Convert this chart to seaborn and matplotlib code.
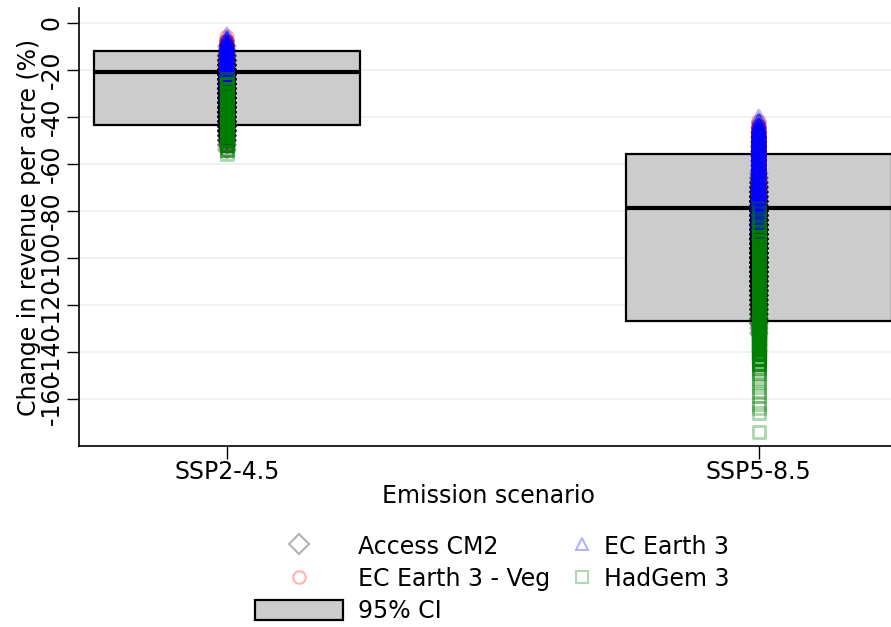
import numpy as np
import pandas as pd
import seaborn as sns
import matplotlib
matplotlib.use("Agg")
import matplotlib.pyplot as plt
from matplotlib.lines import Line2D
from matplotlib.patches import Patch

# ---------------- data ----------------
scenarios = ["SSP2-4.5", "SSP5-8.5"]
models = ["Access CM2", "EC Earth 3 - Veg", "EC Earth 3", "HadGem 3"]

# 95% CI boxes (low, median, high)
ci_low = [-43.6, -127.0]
ci_median = [-21.1, -78.9]
ci_high = [-12.2, -55.8]

# simulated changes (%) per model & scenario: values and number of observations at each value
ssp2_access_vals = [-10, -12, -14, -16, -18, -20, -22, -24, -26, -28, -30, -32, -34, -36, -38, -40, -42, -44, -46, -48, -50, -52, -54]
ssp2_access_cnt = [1, 2, 4, 8, 12, 15, 18, 20, 20, 20, 20, 20, 20, 20, 18, 16, 14, 12, 10, 6, 4, 2, 1]
ssp2_veg_vals = [-6, -8, -10, -12, -14, -16, -18, -20, -22, -24, -26, -28, -30, -32, -34, -36, -38, -40, -42, -44, -46, -48, -50, -52]
ssp2_veg_cnt = [1, 3, 6, 10, 14, 18, 20, 20, 20, 20, 18, 16, 14, 12, 10, 8, 6, 5, 4, 3, 2, 2, 1, 1]
ssp2_ec3_vals = [-5, -7, -9, -11, -13, -15, -17, -19, -21, -23, -25, -27, -29, -31, -33, -35, -37, -39, -41, -43, -45, -47, -49]
ssp2_ec3_cnt = [1, 4, 10, 16, 20, 20, 20, 20, 20, 20, 18, 16, 14, 12, 10, 8, 6, 5, 4, 3, 2, 1, 1]
ssp2_had_vals = [-24, -26, -28, -30, -32, -34, -36, -38, -40, -42, -44, -46, -48, -50, -52, -54, -56]
ssp2_had_cnt = [2, 6, 14, 20, 20, 20, 20, 20, 20, 20, 20, 20, 18, 14, 8, 3, 1]

ssp5_access_vals = [-64, -66, -68, -70, -72, -74, -76, -78, -80, -82, -84, -86, -88, -90, -92, -94, -96, -98, -100, -102, -104, -106, -108, -110, -112, -114, -116, -118, -120, -122, -124, -126, -128, -130, -132]
ssp5_access_cnt = [1, 2, 4, 6, 8, 10, 12, 14, 16, 18, 20, 20, 20, 20, 20, 20, 20, 20, 20, 20, 18, 16, 14, 12, 10, 9, 8, 7, 6, 5, 4, 3, 2, 1, 1]
ssp5_veg_vals = [-42, -44, -46, -48, -50, -52, -54, -56, -58, -60, -62, -64, -66, -68, -70, -72, -74, -76, -78, -80, -82, -84, -86, -88, -90, -92, -94, -96, -98, -100]
ssp5_veg_cnt = [1, 2, 4, 8, 12, 16, 20, 20, 20, 20, 20, 20, 20, 18, 16, 14, 12, 10, 8, 6, 5, 4, 3, 3, 2, 2, 1, 1, 1, 1]
ssp5_ec3_vals = [-40, -42, -44, -46, -48, -50, -52, -54, -56, -58, -60, -62, -64, -66, -68, -70, -72, -74, -76, -78, -80, -82, -84, -86, -88, -90, -92, -94, -96]
ssp5_ec3_cnt = [1, 3, 6, 10, 14, 18, 20, 20, 20, 20, 20, 20, 20, 20, 20, 20, 20, 18, 16, 14, 12, 10, 8, 6, 4, 3, 2, 1, 1]
ssp5_had_vals = [-79, -81, -83, -85, -87, -89, -91, -93, -95, -97, -99, -101, -103, -105, -107, -109, -111, -113, -115, -117, -119, -121, -123, -125, -127, -129, -131, -133, -135, -137, -139, -141, -143, -145, -147, -149, -151, -153, -155, -157, -159, -162, -164, -166, -174]
ssp5_had_cnt = [1, 1, 1, 1, 2, 3, 8, 12, 16, 20, 20, 20, 20, 20, 20, 20, 20, 20, 20, 20, 20, 20, 20, 20, 20, 20, 20, 20, 18, 16, 14, 12, 10, 6, 2, 2, 1, 1, 1, 1, 1, 1, 1, 1, 1]

series = {
    ("SSP2-4.5", "Access CM2"): (ssp2_access_vals, ssp2_access_cnt),
    ("SSP2-4.5", "EC Earth 3 - Veg"): (ssp2_veg_vals, ssp2_veg_cnt),
    ("SSP2-4.5", "EC Earth 3"): (ssp2_ec3_vals, ssp2_ec3_cnt),
    ("SSP2-4.5", "HadGem 3"): (ssp2_had_vals, ssp2_had_cnt),
    ("SSP5-8.5", "Access CM2"): (ssp5_access_vals, ssp5_access_cnt),
    ("SSP5-8.5", "EC Earth 3 - Veg"): (ssp5_veg_vals, ssp5_veg_cnt),
    ("SSP5-8.5", "EC Earth 3"): (ssp5_ec3_vals, ssp5_ec3_cnt),
    ("SSP5-8.5", "HadGem 3"): (ssp5_had_vals, ssp5_had_cnt),
}

y_ticks = [0, -20, -40, -60, -80, -100, -120, -140, -160]

# ---------------- styling ----------------
model_colors = {"Access CM2": "black", "EC Earth 3 - Veg": "red",
                "EC Earth 3": "blue", "HadGem 3": "green"}
model_markers = {"Access CM2": "D", "EC Earth 3 - Veg": "o",
                 "EC Earth 3": "^", "HadGem 3": "s"}
model_sizes = {"Access CM2": 68, "EC Earth 3 - Veg": 78,
               "EC Earth 3": 88, "HadGem 3": 76}
legend_sizes = {"Access CM2": 10.5, "EC Earth 3 - Veg": 9,
                "EC Earth 3": 9, "HadGem 3": 8.5}

sns.set_theme(style="white")
plt.rcParams["font.family"] = ["DejaVu Sans"]
plt.rcParams["text.color"] = "black"
plt.rcParams["axes.labelcolor"] = "black"
plt.rcParams["xtick.color"] = "black"
plt.rcParams["ytick.color"] = "black"

fig = plt.figure(figsize=(8.91, 6.27), dpi=100)
ax = fig.add_axes([0.0887, 0.2887, 0.92, 0.6985])

pos = {s: i for i, s in enumerate(scenarios)}

# CI boxes
ax.bar([pos[s] for s in scenarios],
       [h - l for h, l in zip(ci_high, ci_low)],
       bottom=ci_low, width=0.5, color="#cccccc", edgecolor="black",
       linewidth=1.6, zorder=2)
ax.hlines(ci_median, [pos[s] - 0.25 for s in scenarios],
          [pos[s] + 0.25 for s in scenarios], colors="black",
          linewidth=3, zorder=3)

# scatter points
for m in models:
    rows = []
    for s in scenarios:
        vals, cnt = series[(s, m)]
        for v, c in zip(vals, cnt):
            rows.extend([(pos[s], v)] * c)
    df = pd.DataFrame(rows, columns=["x", "y"])
    sns.scatterplot(data=df, x="x", y="y", ax=ax, marker=model_markers[m],
                    s=model_sizes[m], facecolors="none",
                    edgecolor=model_colors[m], linewidth=2.2,
                    alpha=0.3, zorder=4, legend=False)

ax.set_xlim(-0.278, 1.263)
ax.set_ylim(-180.1, 6.3)
ax.set_xticks([0, 1])
ax.set_xticklabels(scenarios, fontsize=17)
ax.set_yticks(y_ticks)
ax.set_yticklabels([str(t) for t in y_ticks], fontsize=17, rotation=90,
                   va="center")
ax.tick_params(axis="both", direction="out", length=9, width=1,
               color="black", left=True, bottom=True)
ax.tick_params(axis="x", pad=1)
ax.tick_params(axis="y", pad=2)
ax.grid(axis="y", color="#eaf1f3", linewidth=1.2, zorder=0)
ax.set_axisbelow(True)
for side in ["top", "right"]:
    ax.spines[side].set_visible(False)
for side in ["left", "bottom"]:
    ax.spines[side].set_color("black")
    ax.spines[side].set_linewidth(1.2)

ax.set_xlabel("Emission scenario", fontsize=17, labelpad=0)
ax.set_ylabel("Change in revenue per acre (%)", fontsize=17)
ax.yaxis.set_label_coords(-0.047, 0.5)

# legend
def marker_handle(m):
    return Line2D([], [], linestyle="none", marker=model_markers[m],
                  markersize=legend_sizes[m], markerfacecolor="none",
                  markeredgecolor=model_colors[m], alpha=0.3,
                  markeredgewidth=1.5, label=m)

handles_a = [marker_handle("Access CM2"), marker_handle("EC Earth 3 - Veg"),
             Patch(facecolor="#cccccc", edgecolor="black", linewidth=1.6,
                   label="95% CI")]
handles_b = [marker_handle("EC Earth 3"), marker_handle("HadGem 3")]

leg_a = fig.legend(handles=handles_a, ncol=1, loc="upper left",
                   bbox_to_anchor=(238 / 891, 1 - 518 / 627), frameon=False,
                   fontsize=17, handlelength=3.75, handleheight=0.95,
                   handletextpad=0.65, labelspacing=0.35, borderpad=0.2)
leg_b = fig.legend(handles=handles_b, ncol=1, loc="upper left",
                   bbox_to_anchor=(554 / 891, 1 - 518 / 627), frameon=False,
                   fontsize=17, handlelength=1.0, handleheight=0.95,
                   handletextpad=0.4, labelspacing=0.35, borderpad=0.2)

fig.savefig("out.png", dpi=100)
